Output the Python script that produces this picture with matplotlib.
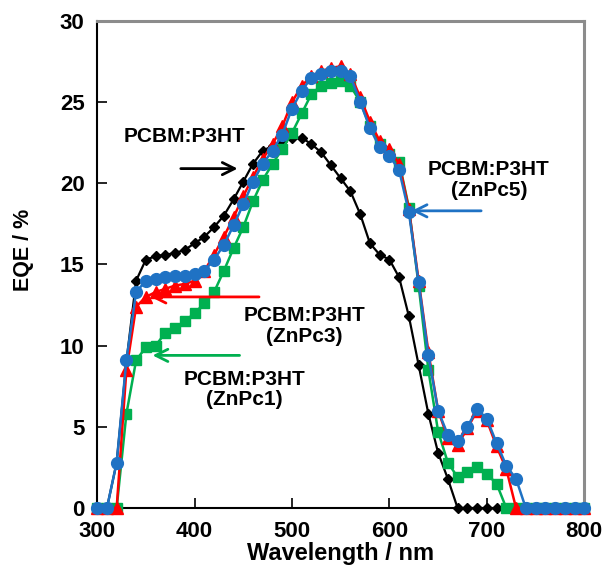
import numpy as np
import matplotlib
matplotlib.use("Agg")
import matplotlib.pyplot as plt

plt.rcParams['font.family'] = ['Liberation Sans', 'DejaVu Sans']
plt.rcParams['font.weight'] = 'bold'

wavelength = list(range(300, 801, 10))

eqe_p3ht = [0, 0, 2.8, 9.0, 14.0, 15.3, 15.5, 15.6, 15.7, 15.9, 16.3, 16.7, 17.3, 18.0, 19.0,
            20.1, 21.2, 22.0, 22.3, 22.6, 22.8, 22.8, 22.4, 21.9, 21.1, 20.3, 19.5, 18.1, 16.3,
            15.6, 15.3, 14.2, 11.8, 8.8, 5.8, 3.4, 1.8] + [0] * 14

eqe_znpc1 = [0, 0, 0, 5.8, 9.1, 9.9, 10.0, 10.8, 11.1, 11.5, 12.0, 12.6, 13.3, 14.6, 16.0,
             17.3, 18.9, 20.2, 21.2, 22.1, 23.1, 24.3, 25.5, 26.0, 26.2, 26.3, 26.0, 25.0, 23.5,
             22.4, 21.8, 21.3, 18.5, 13.7, 8.5, 4.7, 2.8, 1.9, 2.2, 2.5, 2.1, 1.5] + [0] * 9

eqe_znpc3 = [0, 0, 0, 8.5, 12.4, 13.0, 13.3, 13.5, 13.7, 13.8, 14.0, 14.6, 15.6, 16.7, 17.9,
             19.2, 20.4, 21.5, 22.4, 23.5, 25.0, 26.0, 26.6, 26.9, 27.1, 27.2, 26.7, 25.3, 23.8,
             22.6, 22.1, 21.2, 18.4, 14.0, 9.6, 6.0, 4.3, 3.9, 4.9, 6.0, 5.4, 3.8, 2.4] + [0] * 8

eqe_znpc5 = [0, 0, 2.8, 9.1, 13.3, 14.0, 14.1, 14.2, 14.3, 14.3, 14.4, 14.6, 15.3, 16.2, 17.4,
             18.7, 20.1, 21.2, 22.0, 23.0, 24.6, 25.7, 26.5, 26.7, 26.9, 26.9, 26.6, 25.0, 23.4,
             22.2, 21.7, 20.8, 18.2, 13.9, 9.4, 6.0, 4.5, 4.1, 5.0, 6.1, 5.5, 4.0, 2.6, 1.8] + [0] * 7

x_ticks = [300, 400, 500, 600, 700, 800]
y_ticks = [0, 5, 10, 15, 20, 25, 30]

fig = plt.figure(figsize=(6.15, 5.78), dpi=100)
ax = fig.add_axes([0.158, 0.121, 0.792, 0.843])

ax.plot(wavelength, eqe_p3ht, color='black', marker='D', markersize=5, lw=1.6, zorder=3,
        clip_on=False)
ax.plot(wavelength, eqe_znpc1, color='#00B050', marker='s', markersize=7.5, lw=1.8, zorder=4,
        clip_on=False)
ax.plot(wavelength, eqe_znpc3, color='#FF0000', marker='^', markersize=8, lw=1.8, zorder=5,
        clip_on=False)
ax.plot(wavelength, eqe_znpc5, color='#1F72C4', marker='o', markersize=8.5, lw=1.8, zorder=6,
        clip_on=False)

ax.set_xlim(300, 800)
ax.set_ylim(0, 30)
ax.set_xticks(x_ticks)
ax.set_yticks(y_ticks)
ax.tick_params(direction='in', length=7, width=1.2, labelsize=16, pad=9,
               top=False, right=False)
for lab in ax.get_xticklabels() + ax.get_yticklabels():
    lab.set_fontweight('bold')

ax.set_xlabel('Wavelength / nm', fontsize=17, fontweight='bold', labelpad=0)
ax.set_ylabel('EQE / %', fontsize=15.5, fontweight='bold', labelpad=10)
ax.yaxis.set_label_coords(-0.13, 0.53)

for s in ['left', 'bottom']:
    ax.spines[s].set_color('black')
    ax.spines[s].set_linewidth(1.5)
for s in ['top', 'right']:
    ax.spines[s].set_color('#8c8c8c')
    ax.spines[s].set_linewidth(2.2)

arrow_kw = dict(arrowstyle='->', lw=2, mutation_scale=22)
fs = 15

ax.annotate('', xy=(447, 20.9), xytext=(383, 20.9),
            arrowprops=dict(color='black', **arrow_kw), zorder=7)
ax.text(390, 22.9, 'PCBM:P3HT', fontsize=fs, fontweight='bold', ha='center', va='center')

ax.annotate('', xy=(620, 18.3), xytext=(697, 18.3),
            arrowprops=dict(color='#1F72C4', **arrow_kw), zorder=7)
ax.text(702, 20.2, 'PCBM:P3HT\n(ZnPc5)', fontsize=fs, fontweight='bold',
        ha='center', va='center', multialignment='center', linespacing=1.1)

ax.annotate('', xy=(352, 13.0), xytext=(469, 13.0),
            arrowprops=dict(color='#FF0000', **arrow_kw), zorder=7)
ax.text(513, 11.2, 'PCBM:P3HT\n(ZnPc3)', fontsize=fs, fontweight='bold',
        ha='center', va='center', multialignment='center', linespacing=1.1)

ax.annotate('', xy=(354, 9.4), xytext=(449, 9.4),
            arrowprops=dict(color='#00B050', **arrow_kw), zorder=7)
ax.text(451, 7.3, 'PCBM:P3HT\n(ZnPc1)', fontsize=fs, fontweight='bold',
        ha='center', va='center', multialignment='center', linespacing=1.1)

fig.savefig('out.png', dpi=100)
